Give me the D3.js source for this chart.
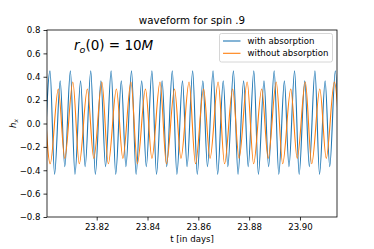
<!DOCTYPE html>
<html>
<head>
<meta charset="utf-8">
<script src="https://cdn.jsdelivr.net/npm/d3@7"></script>
<style>
  body { margin: 0; background: #fff; }
  svg { display: block; font-family: "DejaVu Sans", sans-serif; }
</style>
</head>
<body>
<div class="wrapper"></div>
<script>
// extrema (t in days, h_x)
var absorbTimes = [23.79943,
  23.80162, 23.80343, 23.80563, 23.80744,
  23.80964, 23.81145, 23.81365, 23.81546,
  23.81766, 23.81947, 23.82167, 23.82348,
  23.82568, 23.82749, 23.82969, 23.83150,
  23.83370, 23.83551, 23.83771, 23.83952,
  23.84173, 23.84354, 23.84574, 23.84755,
  23.84975, 23.85156, 23.85376, 23.85557,
  23.85777, 23.85958, 23.86178, 23.86359,
  23.86579, 23.86760, 23.86980, 23.87161,
  23.87381, 23.87562, 23.87782, 23.87963,
  23.88183, 23.88364, 23.88584, 23.88765,
  23.88985, 23.89166, 23.89386, 23.89567,
  23.89787, 23.89968, 23.90188, 23.90369,
  23.90589, 23.90770, 23.90990, 23.91171,
  23.91391, 23.91572];
var absorbValues = [-0.37,
  0.45, -0.435, 0.365, -0.37,
  0.45, -0.435, 0.365, -0.37,
  0.45, -0.435, 0.365, -0.37,
  0.45, -0.435, 0.365, -0.37,
  0.45, -0.435, 0.365, -0.37,
  0.45, -0.435, 0.365, -0.37,
  0.45, -0.435, 0.365, -0.37,
  0.45, -0.435, 0.365, -0.37,
  0.45, -0.435, 0.365, -0.37,
  0.45, -0.435, 0.365, -0.37,
  0.45, -0.435, 0.365, -0.37,
  0.45, -0.435, 0.365, -0.37,
  0.45, -0.435, 0.365, -0.37,
  0.45, -0.435, 0.365, -0.37,
  0.45, -0.435];

var noAbsorbTimes = [
  23.79917, 23.80170, 23.80489, 23.80742,
  23.81061, 23.81314, 23.81633, 23.81885,
  23.82204, 23.82457, 23.82776, 23.83029,
  23.83348, 23.83601, 23.83920, 23.84173,
  23.84492, 23.84744, 23.85063, 23.85316,
  23.85635, 23.85888, 23.86207, 23.86460,
  23.86779, 23.87032, 23.87351, 23.87603,
  23.87922, 23.88175, 23.88494, 23.88747,
  23.89066, 23.89319, 23.89638, 23.89891,
  23.90210, 23.90462, 23.90781, 23.91034,
  23.91353, 23.91606];
var noAbsorbValues = [
  0.355, -0.345, 0.295, -0.298,
  0.355, -0.345, 0.295, -0.298,
  0.355, -0.345, 0.295, -0.298,
  0.355, -0.345, 0.295, -0.298,
  0.355, -0.345, 0.295, -0.298,
  0.355, -0.345, 0.295, -0.298,
  0.355, -0.345, 0.295, -0.298,
  0.355, -0.345, 0.295, -0.298,
  0.355, -0.345, 0.295, -0.298,
  0.355, -0.345, 0.295, -0.298,
  0.355, -0.345];

var xTicks = [23.82, 23.84, 23.86, 23.88, 23.90];
var yTicks = [-0.8, -0.6, -0.4, -0.2, 0.0, 0.2, 0.4, 0.6, 0.8];
var seriesNames = ["with absorption", "without absorption"];
var seriesColors = ["#1f77b4", "#ff7f0e"];

var W = 374, H = 249;
var margin = { top: 30, right: 37, bottom: 32, left: 47 },
  width = W - margin.left - margin.right,
  height = H - margin.top - margin.bottom;

var svg = d3.select(".wrapper").append("svg")
  .attr("width", W).attr("height", H);

var g = svg.append("g")
  .attr("transform", "translate(" + margin.left + "," + margin.top + ")");

var x = d3.scaleLinear().domain([23.80044, 23.91457]).range([0, width]);
var y = d3.scaleLinear().domain([-0.8, 0.8]).range([height, 0]);

g.append("clipPath").attr("id", "plotclip")
  .append("rect").attr("width", width).attr("height", height);

var line = d3.line()
  .x(function(d) { return x(d[0]); })
  .y(function(d) { return y(d[1]); })
  .curve(d3.curveMonotoneX);

var series = [
  d3.zip(absorbTimes, absorbValues),
  d3.zip(noAbsorbTimes, noAbsorbValues)
];

g.append("g").attr("clip-path", "url(#plotclip)")
  .selectAll("path")
  .data(series)
  .enter()
  .append("path")
  .attr("fill", "none")
  .attr("stroke", function(d, i) { return seriesColors[i]; })
  .attr("stroke-width", 1.1)
  .attr("d", line);

// axes
var xAxis = g.append("g")
  .attr("transform", "translate(0," + height + ")")
  .call(d3.axisBottom(x).tickValues(xTicks).tickFormat(d3.format(".2f"))
    .tickSize(3.5).tickPadding(3));
var yAxis = g.append("g")
  .call(d3.axisLeft(y).tickValues(yTicks).tickFormat(d3.format(".1f"))
    .tickSize(3.5).tickPadding(3));

[xAxis, yAxis].forEach(function(a) {
  a.select(".domain").remove();
  a.selectAll("text").attr("font-family", "DejaVu Sans").attr("font-size", 8.6).attr("fill", "#000");
  a.selectAll("line").attr("stroke", "#000").attr("stroke-width", 0.8);
});

// spines
g.append("rect")
  .attr("width", width).attr("height", height)
  .attr("fill", "none").attr("stroke", "#000").attr("stroke-width", 0.8);

// title
svg.append("text")
  .attr("x", margin.left + width / 2).attr("y", 24)
  .attr("text-anchor", "middle").attr("font-size", 10.3)
  .text("waveform for spin .9");

// axis labels
svg.append("text")
  .attr("x", margin.left + width / 2).attr("y", 242)
  .attr("text-anchor", "middle").attr("font-size", 8.6)
  .text("t [in days]");

var yl = svg.append("text")
  .attr("transform", "translate(16," + (margin.top + height / 2) + ") rotate(-90)")
  .attr("text-anchor", "middle").attr("font-size", 8.6);
yl.append("tspan").attr("font-style", "italic").text("h");
yl.append("tspan").attr("font-style", "italic").attr("font-size", 6).attr("dy", 2).text("x");

// annotation r_o(0) = 10M
var ann = svg.append("text").attr("x", 74).attr("y", 50).attr("font-size", 13.5);
ann.append("tspan").attr("font-style", "italic").text("r");
ann.append("tspan").attr("font-style", "italic").attr("font-size", 9.5).attr("dy", 3).text("o");
ann.append("tspan").attr("dy", -3).text("(0) = 10");
ann.append("tspan").attr("font-style", "italic").text("M");

// legend
var lg = svg.append("g").attr("transform", "translate(219.5,33.5)");
lg.append("rect")
  .attr("width", 113).attr("height", 28.5).attr("rx", 2)
  .attr("fill", "#fff").attr("fill-opacity", 0.8)
  .attr("stroke", "#cccccc").attr("stroke-width", 0.8);
var items = lg.selectAll(".item").data(seriesNames).enter().append("g")
  .attr("class", "item")
  .attr("transform", function(d, i) { return "translate(0," + (7.5 + i * 12.3) + ")"; });
items.append("line")
  .attr("x1", 3.5).attr("x2", 21)
  .attr("stroke", function(d, i) { return seriesColors[i]; })
  .attr("stroke-width", 1.1);
items.append("text")
  .attr("x", 28).attr("y", 3.1)
  .attr("font-size", 8.6)
  .text(function(d) { return d; });
</script>
</body>
</html>
